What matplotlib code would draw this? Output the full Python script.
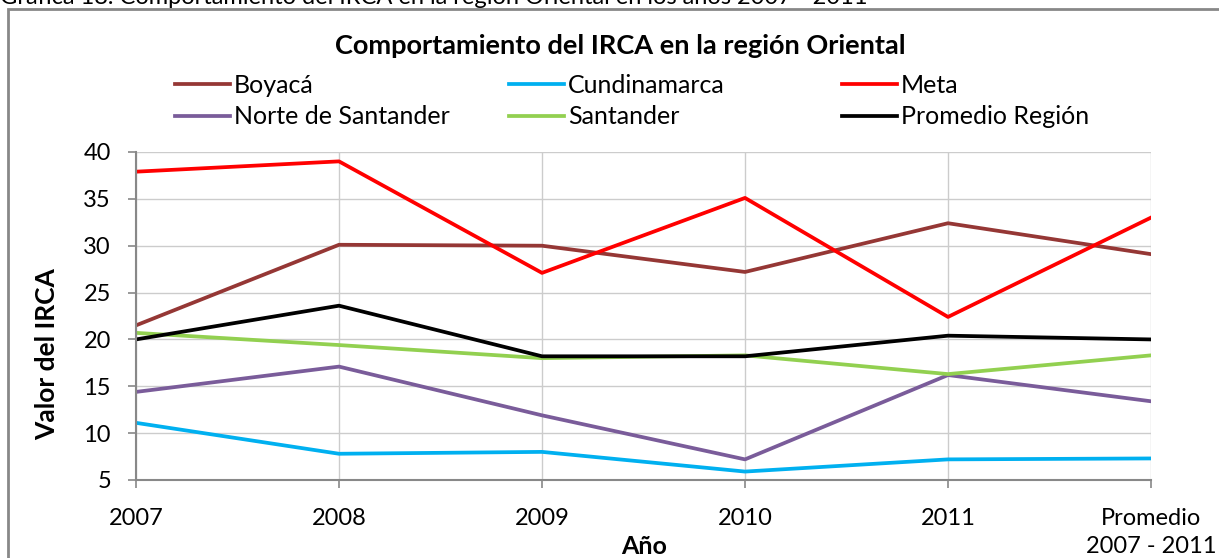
import numpy as np
import matplotlib.pyplot as plt
from matplotlib.patches import Rectangle

plt.rcParams["font.family"] = ["Lato", "DejaVu Sans"]

years = ["2007", "2008", "2009", "2010", "2011", "Promedio\n2007 - 2011"]
boyaca = [21.5, 30.1, 30.0, 27.2, 32.4, 29.1]
cundinamarca = [11.1, 7.8, 8.0, 5.9, 7.2, 7.3]
meta = [37.9, 39.0, 27.1, 35.1, 22.4, 33.0]
norte_santander = [14.4, 17.1, 11.9, 7.2, 16.2, 13.4]
santander = [20.7, 19.4, 18.0, 18.3, 16.3, 18.3]
promedio_region = [20.0, 23.6, 18.2, 18.2, 20.4, 20.0]

series = [
    ("Boyacá", boyaca, "#953735"),
    ("Cundinamarca", cundinamarca, "#00b0f0"),
    ("Meta", meta, "#ff0000"),
    ("Norte de Santander", norte_santander, "#7a5c9a"),
    ("Santander", santander, "#92d050"),
    ("Promedio Región", promedio_region, "#000000"),
]

W, H = 1219, 558
fig = plt.figure(figsize=(W / 100, H / 100), dpi=100)
ax = fig.add_axes([136 / W, 1 - 480 / H, (1151 - 136) / W, (480 - 152) / H])

x = np.arange(len(years))
lines = []
for name, vals, col in series:
    (ln,) = ax.plot(x, vals, color=col, lw=2.7, label=name)
    lines.append(ln)

ax.set_xlim(0, len(years) - 1)
ax.set_ylim(5, 40)
ax.set_yticks(np.arange(5, 41, 5))
ax.set_xticks(x)
ax.set_xticklabels(years, fontsize=17, linespacing=1.4)
ax.tick_params(axis="y", labelsize=17, length=6, width=1.2, color="#888888", direction="out", pad=12)
ax.tick_params(axis="x", length=6, width=1.2, color="#888888", direction="out", pad=14)
ax.grid(True, color="#cccccc", lw=1)
ax.set_axisbelow(True)
for s in ["top", "right"]:
    ax.spines[s].set_visible(False)
for s in ["left", "bottom"]:
    ax.spines[s].set_color("#888888")
    ax.spines[s].set_linewidth(1.5)

fig.text(47 / W, 1 - 354 / H, "Valor del IRCA", rotation=90, ha="center", va="center",
         fontsize=19, fontweight="bold")
fig.text(644 / W, 1 - 547 / H, "Año", ha="center", va="center", fontsize=18, fontweight="bold")

fig.text(620 / W, 1 - 46 / H, "Comportamiento del IRCA en la región Oriental",
         ha="center", va="center", fontsize=19.5, fontweight="bold")
fig.text(0.0, 1 + 2 / H, "Gráfica 18. Comportamiento del IRCA en la región Oriental en los años 2007 - 2011",
         ha="left", va="center", fontsize=17)

# chart border (right and bottom edges fall outside the picture)
fig.add_artist(Rectangle((8 / W, -0.1), 1.2, 1 - 9 / H + 0.1, transform=fig.transFigure,
                         fill=False, ec="#888888", lw=2))

# legend in three columns
col_x = [175, 509, 842]
for i, cx in enumerate(col_x):
    hs = [lines[i], lines[i + 3]]
    fig.legend(hs, [h.get_label() for h in hs], loc="upper left",
               bbox_to_anchor=(cx / W, 1 - 74 / H), frameon=False,
               fontsize=18, handlelength=2.2, handletextpad=0.15, labelspacing=0.33,
               borderaxespad=0, borderpad=0)

fig.savefig("out.png", dpi=100)
